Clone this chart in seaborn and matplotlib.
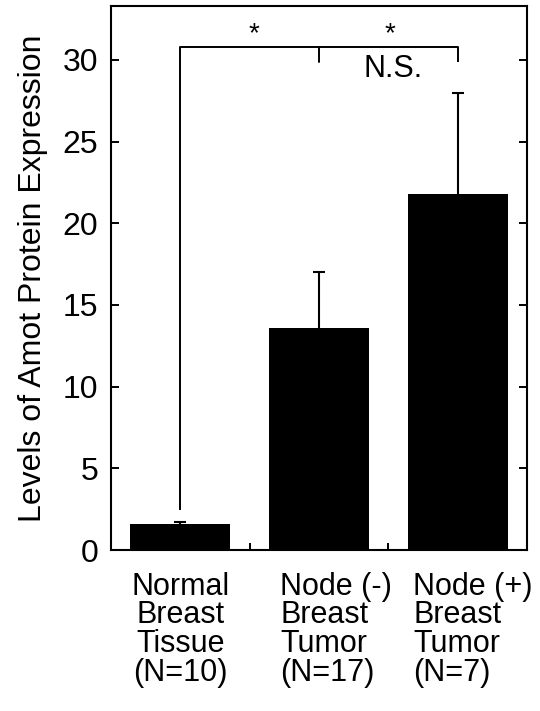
import matplotlib
matplotlib.use("Agg")
import matplotlib.pyplot as plt
import seaborn as sns
import pandas as pd
import numpy as np

# ---- data ----
groups = ["Normal", "NodeNeg", "NodePos"]
group_labels = ["Normal\nBreast\nTissue\n(N=10)",
                "Node (-)\nBreast\nTumor\n(N=17)",
                "Node (+)\nBreast\nTumor\n(N=7)"]
means = [1.57, 13.6, 21.8]
errors = [0.16, 3.4, 6.15]
yticks = [0, 5, 10, 15, 20, 25, 30]
ylabel = "Levels of Amot Protein Expression"
sig_marks = ["*", "*"]
ns_text = "N.S."

sns.set_theme(style="white")
plt.rcParams['font.family'] = ['Liberation Sans', 'DejaVu Sans']
plt.rcParams['text.color'] = 'black'
plt.rcParams['axes.labelcolor'] = 'black'

df = pd.DataFrame({"group": groups, "value": means})

fig = plt.figure(figsize=(5.4, 7.11), dpi=100)
ax = fig.add_axes([111/540, 1-550/711, (527-111)/540, (550-6)/711])

sns.barplot(data=df, x="group", y="value", color="black", saturation=1,
            width=0.72, errorbar=None, ax=ax, edgecolor="black", linewidth=0)

x = np.arange(len(groups))
eb = ax.errorbar(x, means, yerr=[np.zeros(len(errors)), errors], fmt="none",
                 ecolor="black", elinewidth=1.5, capsize=4, capthick=1.5, zorder=3)
# keep only the upper caps
for cl in eb[1]:
    if np.allclose(cl.get_ydata(), means):
        cl.set_visible(False)

ax.set_xlim(-0.5, 2.5)
ax.set_ylim(0, 33.3)
ax.set_yticks(yticks)
ax.set_yticklabels([str(t) for t in yticks])
ax.set_xticks([0.5, 1.5])
ax.set_xticklabels([])
ax.set_xlabel("")
ax.set_ylabel(ylabel, fontsize=23, labelpad=11, color="black")

ax.tick_params(axis="y", direction="in", length=6, width=1.4, labelsize=23,
               pad=9, left=True, right=True, colors="black")
ax.tick_params(axis="x", direction="in", length=5, width=1.4, bottom=True,
               colors="black")
for s in ax.spines.values():
    s.set_visible(True)
    s.set_linewidth(1.5)
    s.set_color("black")

# category labels (first centred, others left-aligned as in the reference)
trans = matplotlib.transforms.blended_transform_factory(ax.transData, ax.transAxes)
label_x = [0.0, 0.72, 1.678]
label_ha = ["center", "left", "left"]
for lx, lab, ha in zip(label_x, group_labels, label_ha):
    ax.text(lx, -0.040, lab, transform=trans, ha=ha, va="top",
            multialignment=ha, fontsize=22, linespacing=0.94, color="black")

# significance brackets
top_y = 30.8
tick_y = 29.9
base_y = 2.45
lw = 1.4
ax.plot([x[0], x[0], x[2], x[2]], [base_y, top_y, top_y, tick_y],
        color="black", lw=lw, solid_capstyle="butt", clip_on=False)
ax.plot([x[1], x[1]], [top_y, tick_y], color="black", lw=lw)
ax.text(0.531, 31.15, sig_marks[0], ha="center", va="baseline", fontsize=20, color="black")
ax.text(1.512, 31.15, sig_marks[1], ha="center", va="baseline", fontsize=20, color="black")
ax.text(1.534, 28.95, ns_text, ha="center", va="baseline", fontsize=22, color="black")

fig.savefig("out.png", dpi=100)
